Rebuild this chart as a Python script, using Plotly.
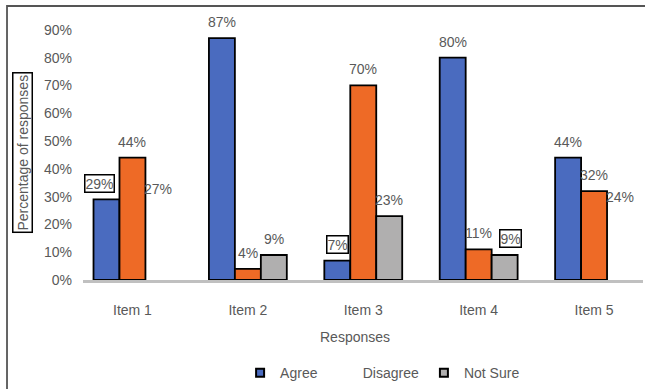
import plotly.graph_objects as go

categories = ["Item 1", "Item 2", "Item 3", "Item 4", "Item 5"]
agree = [29, 87, 7, 80, 44]
disagree = [44, 4, 70, 11, 32]
not_sure = [27, 9, 23, 9, 24]
not_sure_bar_shown = [False, True, True, True, False]
y_ticks = [0, 10, 20, 30, 40, 50, 60, 70, 80, 90]
y_tick_text = [f"{t}%" for t in y_ticks]

FONT = "Liberation Sans, Arial, sans-serif"
TXT = "#595959"
BLUE = "#4a6bbf"
ORANGE = "#ee6a26"
GRAY = "#b0afaf"

fig = go.Figure()
fig.add_trace(go.Bar(x=categories, y=agree, name="Agree", showlegend=False,
                     marker=dict(color=BLUE, line=dict(color="black", width=1.8))))
fig.add_trace(go.Bar(x=categories, y=disagree, name="Disagree", showlegend=False,
                     marker=dict(color=ORANGE, line=dict(color="black", width=1.8))))
fig.add_trace(go.Bar(
    x=categories, y=not_sure, name="Not Sure", showlegend=False,
    marker=dict(color=[GRAY if s else "rgba(0,0,0,0)" for s in not_sure_bar_shown],
                line=dict(color="black", width=[1.8 if s else 0 for s in not_sure_bar_shown]))))

# legend keys (small squares; Disagree shown without a key in the original)
legend_keys = [("Agree", BLUE, 2), ("Disagree", "rgba(0,0,0,0)", 0), ("Not Sure", GRAY, 2)]
for name, col, lw in legend_keys:
    fig.add_trace(go.Scatter(x=[None], y=[None], mode="markers", name=name,
                             marker=dict(symbol="square", size=8, color=col,
                                         line=dict(color="black" if lw else "rgba(0,0,0,0)", width=lw)),
                             hoverinfo="skip"))

bar_w = 0.225
series = [agree, disagree, not_sure]
boxed = {(0, 0): -7, (0, 2): 0, (2, 3): 6}
annotations = []
for si, vals in enumerate(series):
    off = (si - 1) * bar_w
    for ci, v in enumerate(vals):
        key = (si, ci)
        a = dict(x=ci + off, y=v, xref="x", yref="y", text=f"{v}%", showarrow=False,
                 yshift=16, yanchor="middle", xanchor="center",
                 font=dict(family=FONT, size=14, color=TXT))
        if key in boxed:
            a.update(bordercolor="black", borderwidth=1.5, borderpad=0,
                     bgcolor="white", xshift=boxed[key])
        annotations.append(a)

# axis titles
annotations.append(dict(text="Percentage of responses", xref="paper", yref="paper",
                        x=-0.108, y=0.4586, xanchor="center", yanchor="middle",
                        textangle=-90, showarrow=False,
                        bordercolor="black", borderwidth=1.5, borderpad=1,
                        font=dict(family=FONT, size=14, color=TXT)))
annotations.append(dict(text="Responses", xref="paper", yref="paper",
                        x=0.486, y=-0.205, xanchor="center", yanchor="middle",
                        showarrow=False, font=dict(family=FONT, size=14, color=TXT)))

fig.update_layout(
    width=645, height=389,
    margin=dict(l=83, r=2, t=2, b=109, autoexpand=False),
    paper_bgcolor="white", plot_bgcolor="white",
    barmode="group", bargap=0.325, bargroupgap=0,
    font=dict(family=FONT, size=14, color=TXT),
    annotations=annotations,
    legend=dict(orientation="h", x=0.535, xanchor="center", y=-0.335, yanchor="middle",
                font=dict(family=FONT, size=14, color=TXT), bgcolor="rgba(0,0,0,0)",
                itemwidth=30, traceorder="normal"),
    shapes=[dict(type="rect", xref="paper", yref="paper", x0=-0.1357, x1=1.2,
                 y0=-0.6, y1=0.9856, line=dict(color="#555555", width=1.8))],
)
fig.update_xaxes(type="category", range=[-0.4286, 4.424], showline=True,
                 linecolor="#c0c0c0", linewidth=2.5, showgrid=False, ticks="",
                 ticklabelstandoff=15, tickfont=dict(family=FONT, size=14, color=TXT))
fig.update_yaxes(range=[0, 100], tickvals=y_ticks, ticktext=y_tick_text, showgrid=False,
                 zeroline=False, showline=False, ticks="", ticklabelstandoff=10,
                 tickfont=dict(family=FONT, size=14, color=TXT))

fig.write_html("out.html")
